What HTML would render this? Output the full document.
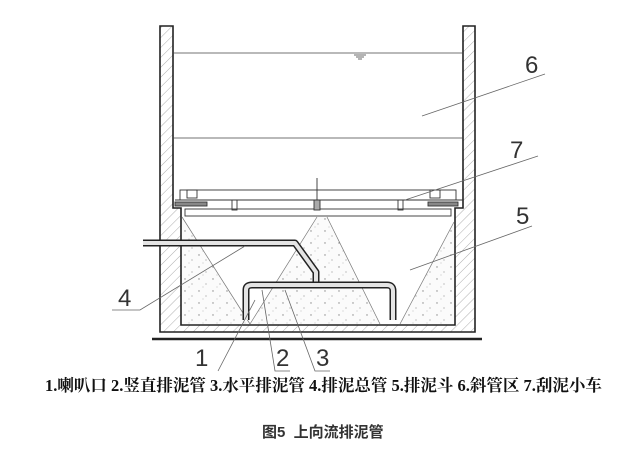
<!DOCTYPE html>
<html><head><meta charset="utf-8"><style>
html,body{margin:0;padding:0;background:#fff;}
body{width:628px;height:449px;overflow:hidden;position:relative;}
svg{position:absolute;left:0;top:0;}
.leg{position:absolute;left:45px;top:372px;font-family:"Liberation Serif","Noto Serif CJK SC",serif;font-weight:bold;font-size:16.5px;color:#111;white-space:nowrap;transform:scaleX(1.0);transform-origin:left top;}
.cap{position:absolute;left:262px;top:421px;font-family:"Liberation Sans","Noto Sans CJK SC",sans-serif;font-size:15px;color:#333;font-weight:bold;white-space:nowrap;}
</style></head><body>
<svg width="628" height="449" viewBox="0 0 628 449">
<defs>
<pattern id="h" width="7" height="7" patternUnits="userSpaceOnUse" patternTransform="rotate(45)">
<rect width="7" height="7" fill="#fff"/><line x1="0" y1="0" x2="0" y2="7" stroke="#999" stroke-width="0.8"/></pattern>
<pattern id="d" width="14" height="12" patternUnits="userSpaceOnUse">
<rect width="14" height="12" fill="#fbfbfb"/><circle cx="3" cy="3" r="0.7" fill="#888"/><circle cx="10" cy="8" r="0.6" fill="#999"/><circle cx="7" cy="11" r="0.5" fill="#aaa"/></pattern>
</defs>
<path d="M160 26 L173 26 L173 208 L181 208 L181 325 L455 325 L455 208 L463 208 L463 26 L475 26 L475 332 L160 332 Z" fill="url(#h)" stroke="#222" stroke-width="1.6"/>
<line x1="152" y1="339" x2="482" y2="339" stroke="#222" stroke-width="2.5"/>
<polygon points="182,217 250,324 182,324" fill="url(#d)"/>
<polygon points="317,217 327,217 380,324 250,324" fill="url(#d)"/>
<polygon points="454,222 400,324 454,324" fill="url(#d)"/>
<g stroke="#777" stroke-width="0.7" fill="none">
<line x1="182" y1="217" x2="250" y2="324"/><line x1="317" y1="217" x2="250" y2="324"/>
<line x1="327" y1="217" x2="380" y2="324"/><line x1="454" y1="222" x2="400" y2="324"/>
</g>
<g stroke="#444" stroke-width="0.8">
<line x1="173" y1="53" x2="463" y2="53"/><line x1="173" y1="138" x2="463" y2="138"/>
<line x1="354" y1="55" x2="366" y2="55"/><line x1="356" y1="57" x2="364" y2="57"/><line x1="358" y1="59" x2="362" y2="59"/>
</g>
<g stroke="#333" stroke-width="0.9" fill="none">
<rect x="180" y="190" width="276" height="10"/>
<rect x="185" y="209" width="266" height="7"/>
<line x1="175" y1="200" x2="463" y2="200"/>
<rect x="175" y="202" width="32" height="4" fill="#888"/><rect x="428" y="202" width="30" height="4" fill="#888"/>
<rect x="232" y="200" width="5" height="10"/><rect x="398" y="200" width="5" height="10"/>
<rect x="314" y="200" width="6" height="10" fill="#aaa"/>
<line x1="317" y1="178" x2="317" y2="200"/>
<rect x="187" y="190" width="10" height="8"/><rect x="430" y="190" width="10" height="8"/>
</g>
<g fill="none" stroke-linejoin="round">
<path d="M143 243 L295 243 L316 272 L316 285" stroke="#222" stroke-width="7"/>
<path d="M143 243 L295 243 L316 272 L316 285" stroke="#e4e4e4" stroke-width="4"/>
<path d="M246 320 L246 290 Q246 285 252 285 L387 285 Q393 285 393 291 L393 320" stroke="#222" stroke-width="7"/>
<path d="M246 320 L246 290 Q246 285 252 285 L387 285 Q393 285 393 291 L393 320" stroke="#e4e4e4" stroke-width="4"/>
</g>
<g stroke="#666" stroke-width="0.8" fill="none">
<path d="M422 116 L545 74"/>
<path d="M405 200 L538 156"/>
<path d="M410 270 L532 226"/>
<path d="M245 246 L140 310 L112 310"/>
<path d="M255 300 L218 371"/>
<path d="M262 290 L275 371 L290 371"/>
<path d="M285 290 L315 371 L330 371"/>
</g>
<g font-family="Liberation Sans Narrow,Liberation Sans,sans-serif" font-size="24" fill="#333">
<text x="525" y="73">6</text><text x="510" y="158">7</text><text x="516" y="224">5</text>
<text x="118" y="306">4</text><text x="195" y="366">1</text><text x="276" y="366">2</text><text x="316" y="366">3</text>
</g>
</svg>
<div class="leg">1.喇叭口 2.竖直排泥管 3.水平排泥管 4.排泥总管 5.排泥斗 6.斜管区 7.刮泥小车</div>
<div class="cap">图5&nbsp; 上向流排泥管</div>
</body></html>
